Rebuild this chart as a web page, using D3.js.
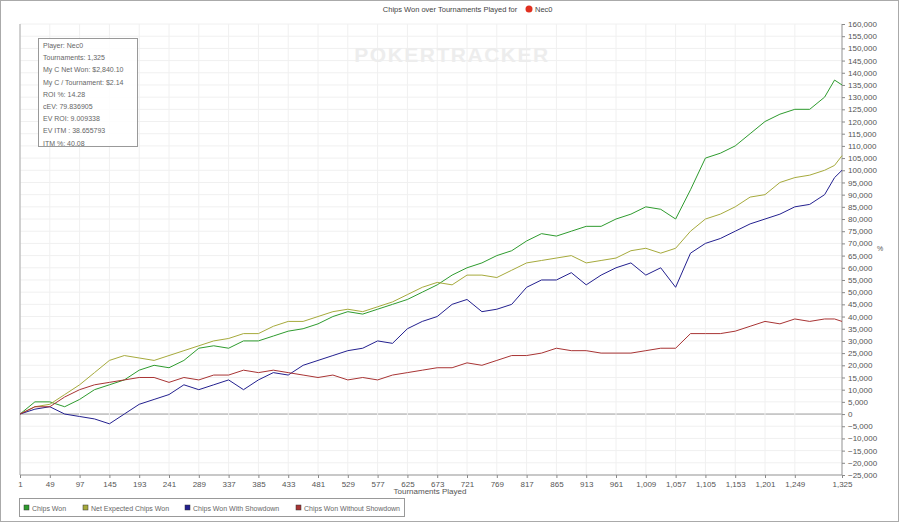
<!DOCTYPE html><html><head><meta charset="utf-8"><script src="https://cdn.jsdelivr.net/npm/d3@7"></script>
<style>body{margin:0;background:#fff}text{font-family:"Liberation Sans",Arial,sans-serif}</style></head><body><svg id="c" width="900" height="527"></svg><script>
const tournaments=[1,25,49,73,97,121,145,169,193,217,241,265,289,313,337,361,385,409,433,457,481,505,529,553,577,601,625,649,673,697,721,745,769,793,817,841,865,889,913,937,961,985,1009,1033,1057,1081,1105,1129,1153,1177,1201,1225,1249,1273,1297,1313,1325];
const chipsWon=[0,5,5,3,6,10,12,14,18,20,19,22,27,28,27,30,30,32,34,35,37,40,42,41,43,45,47,50,53,57,60,62,65,67,71,74,73,75,77,77,80,82,85,84,80,92,105,107,110,115,120,123,125,125,130,137,135];
const netExpected=[0,3,4,8,12,17,22,24,23,22,24,26,28,30,31,33,33,36,38,38,40,42,43,42,44,46,49,52,54,53,57,57,56,59,62,63,64,65,62,63,64,67,68,66,68,75,80,82,85,89,90,95,97,98,100,102,106];
const withShowdown=[0,2,3,0,-1,-2,-4,0,4,6,8,12,10,12,14,10,14,17,16,20,22,24,26,27,30,29,35,38,40,45,47,42,43,45,52,55,55,58,53,57,60,62,57,60,52,66,70,72,75,78,80,82,85,86,90,97,100];
const withoutShowdown=[0,3,3,7,10,12,13,14,15,15,13,15,14,16,16,18,17,18,17,16,15,16,14,15,14,16,17,18,19,19,21,20,22,24,24,25,27,26,26,25,25,25,26,27,27,33,33,33,34,36,38,37,39,38,39,39,38];
const xTicks=[1,49,97,145,193,241,289,337,385,433,481,529,577,625,673,721,769,817,865,913,961,1009,1057,1105,1153,1201,1249,1325];
const seriesNames=["Chips Won","Net Expected Chips Won","Chips Won With Showdown","Chips Won Without Showdown"];
const seriesColors=["#2e9b2e","#a6aa3c","#23208f","#a83434"];
const infoLines=["Player: Nec0","Tournaments: 1,325","My C Net Won: $2,840.10","My C / Tournament: $2.14","ROI %: 14.28","cEV: 79.836905","EV ROI: 9.009338","EV ITM : 38.655793","ITM %: 40.08"];
const series=[chipsWon,netExpected,withShowdown,withoutShowdown];
const svg=d3.select("#c");
svg.append("rect").attr("x",0.5).attr("y",0.5).attr("width",898).attr("height",521).attr("fill","none").attr("stroke","#aaa");
const L=20,R=842,T=24,B=475;
const x=d3.scaleLinear().domain([1,1325]).range([L,R]);
const y=d3.scaleLinear().domain([-25000,160000]).range([B,T]);
const yt=d3.range(-25000,160001,5000);
const g=svg.append("g");
g.selectAll(".hg").data(yt).join("line").attr("x1",L).attr("x2",R).attr("y1",d=>y(d)).attr("y2",d=>y(d)).attr("stroke",d=>d===0?"#999":"#f0f0f0");
g.selectAll(".vg").data(xTicks).join("line").attr("y1",T).attr("y2",B).attr("x1",d=>x(d)).attr("x2",d=>x(d)).attr("stroke","#f0f0f0");
svg.append("text").attr("x",452).attr("y",62).attr("text-anchor","middle").attr("font-size",21).attr("font-weight","bold").attr("fill","#ededed").attr("letter-spacing",1.5).text("POKERTRACKER");
svg.append("line").attr("x1",L).attr("x2",L).attr("y1",T).attr("y2",B).attr("stroke","#aaa");
svg.append("line").attr("x1",R).attr("x2",R).attr("y1",T).attr("y2",B).attr("stroke","#999");
svg.append("line").attr("x1",L).attr("x2",R).attr("y1",B).attr("y2",B).attr("stroke","#999");
const ya=svg.append("g").attr("transform",`translate(${R},0)`).call(d3.axisRight(y).tickValues(yt).tickSize(3).tickFormat(d3.format(",")));
const xa=svg.append("g").attr("transform",`translate(0,${B})`).call(d3.axisBottom(x).tickValues(xTicks).tickSize(3).tickFormat(d3.format(",")));
[ya,xa].forEach(a=>{a.select(".domain").remove();a.selectAll("line").attr("stroke","#888");a.selectAll("text").attr("fill","#555").attr("font-size",8).attr("font-family","Liberation Sans, Arial, sans-serif");});
const line=d3.line().x((d,i)=>x(tournaments[i])).y(d=>y(d*1000));
series.forEach((s,i)=>svg.append("path").attr("d",line(s)).attr("fill","none").attr("stroke",seriesColors[i]).attr("stroke-width",1));
svg.append("text").attr("x",450).attr("y",12).attr("text-anchor","middle").attr("font-size",7.5).attr("fill","#444").text("Chips Won over Tournaments Played for ");
svg.append("circle").attr("cx",529).attr("cy",9).attr("r",3.5).attr("fill","#e03020");
svg.append("text").attr("x",535).attr("y",12).attr("font-size",7.5).attr("fill","#444").text("Nec0");
svg.append("text").attr("x",430).attr("y",494).attr("text-anchor","middle").attr("font-size",8).attr("fill","#555").text("Tournaments Played");
svg.append("text").attr("x",880).attr("y",251).attr("text-anchor","middle").attr("font-size",7).attr("fill","#555").text("%");
svg.append("rect").attr("x",38.5).attr("y",38.5).attr("width",99).attr("height",108).attr("fill","#fff").attr("fill-opacity",0.85).attr("stroke","#999");
infoLines.forEach((t,i)=>svg.append("text").attr("x",43).attr("y",48+i*12.2).attr("font-size",7).attr("fill","#666").text(t));
svg.append("rect").attr("x",19.5).attr("y",498.5).attr("width",385).attr("height",18).attr("fill","#fff").attr("stroke","#999");
const lpos=[24,83,185,296];
seriesNames.forEach((n,i)=>{
 svg.append("rect").attr("x",lpos[i]).attr("y",505).attr("width",5).attr("height",5).attr("fill",seriesColors[i]).attr("stroke","#333").attr("stroke-width",0.5);
 svg.append("text").attr("x",lpos[i]+8).attr("y",510.5).attr("font-size",7).attr("fill","#666").text(n);
});
</script></body></html>
